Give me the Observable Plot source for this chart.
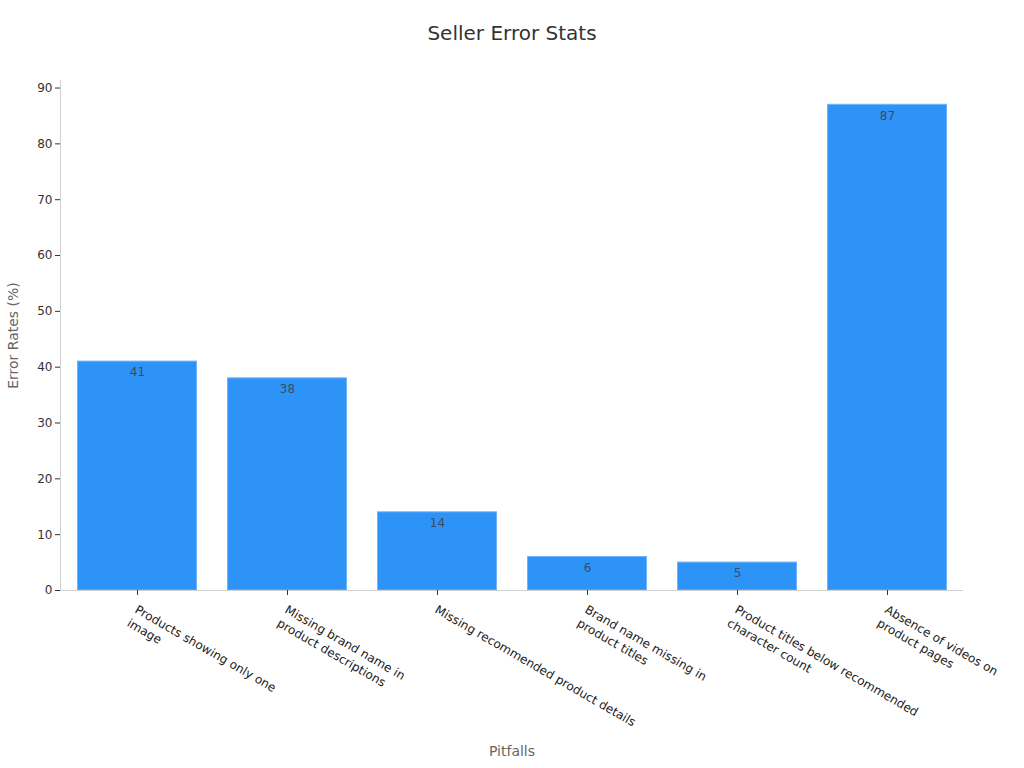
<!DOCTYPE html>
<html>
<head>
<meta charset="utf-8">
<script src="https://cdn.jsdelivr.net/npm/d3@7"></script>
<script src="https://cdn.jsdelivr.net/npm/@observablehq/plot@0.6"></script>
<style>
  html, body { margin: 0; padding: 0; background: #fff; }
  body { width: 1024px; height: 768px; overflow: hidden; font-family: "DejaVu Sans", sans-serif; }
  #title { height: 60px; line-height: 66px; text-align: center; font-size: 20px; color: #333; }
</style>
</head>
<body>
<div id="title">Seller Error Stats</div>
<div id="chart"></div>
<script>
const categories = [
  "Products showing only one image",
  "Missing brand name in product descriptions",
  "Missing recommended product details",
  "Brand name missing in product titles",
  "Product titles below recommended character count",
  "Absence of videos on product pages"
];
const tickLabels = [
  "Products showing only one\nimage",
  "Missing brand name in\nproduct descriptions",
  "Missing recommended product details",
  "Brand name missing in\nproduct titles",
  "Product titles below recommended\ncharacter count",
  "Absence of videos on\nproduct pages"
];
const values = [41, 38, 14, 6, 5, 87];
const yTicks = [0, 10, 20, 30, 40, 50, 60, 70, 80, 90];

const data = categories.map((c, i) => ({category: c, value: values[i], label: tickLabels[i]}));

const chart = Plot.plot({
  width: 1024,
  height: 708,
  marginTop: 20,
  marginLeft: 60,
  marginRight: 61,
  marginBottom: 178,
  style: {fontFamily: "DejaVu Sans, sans-serif", fontSize: "12px", color: "#333", background: "#fff"},
  x: {domain: categories, paddingInner: 0.2, paddingOuter: 0.1, label: null},
  y: {domain: [0, 91.35], label: null},
  marks: [
    Plot.barY(data, {x: "category", y: "value", fill: "#2E93F7", stroke: "#6FB3F8", strokeWidth: 1, insetLeft: 0.5, insetRight: 0.5}),
    Plot.text(data, {x: "category", y: "value", text: d => String(d.value), dy: 11, fill: "#3d4b5c", fontSize: 12}),
    Plot.ruleY([0], {stroke: "#d0d0d0"}),
    Plot.frame({anchor: "left", stroke: "#d0d0d0"}),
    Plot.axisY({ticks: yTicks, tickSize: 5, tickPadding: 3, stroke: "#333", fill: "#333", fontSize: 12, label: null}),
    Plot.axisX({tickSize: 5, tickFormat: () => "", stroke: "#333", label: null}),
    Plot.text(data, {x: "category", frameAnchor: "bottom", text: "label", rotate: 30, textAnchor: "start", lineAnchor: "top", lineHeight: 1.3, dx: 2, dy: 12, fill: "#222", fontSize: 12}),
    Plot.text(["Error Rates (%)"], {frameAnchor: "left", textAnchor: "middle", lineAnchor: "middle", dx: -47, rotate: -90, fill: "#666", fontSize: 14}),
    Plot.text(["Pitfalls"], {frameAnchor: "bottom", textAnchor: "middle", lineAnchor: "middle", dy: 161, fill: "#666", fontSize: 14})
  ]
});
document.getElementById("chart").appendChild(chart);
</script>
</body>
</html>
